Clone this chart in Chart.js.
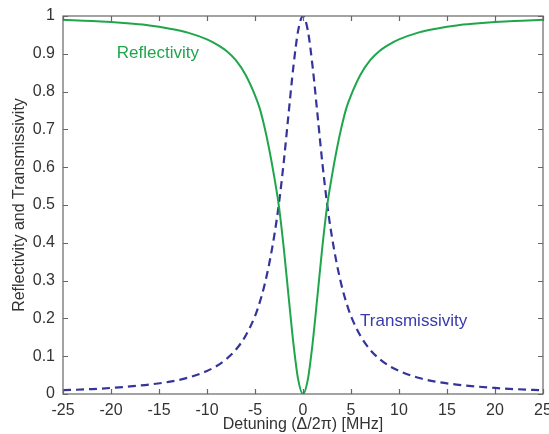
<!DOCTYPE html>
<html>
<head>
<meta charset="utf-8">
<script src="https://cdn.jsdelivr.net/npm/chart.js@4/dist/chart.umd.min.js"></script>
<style>
html,body{margin:0;padding:0;background:#fff;}
#wrap{width:549px;height:434px;position:relative;}
</style>
</head>
<body>
<div id="wrap"><canvas id="c" width="549" height="434"></canvas></div>
<script>
// Detuning (MHz)
const detuning = [-25,-22,-20,-18,-16,-14,-12,-10,-9,-8,-7,-6,-5,-4.5,-4,-3.5,-3,-2.5,-2,-1.5,-1,-0.5,0,
                  0.5,1,1.5,2,2.5,3,3.5,4,4.5,5,6,7,8,9,10,12,14,16,18,20,22,25];
const reflectivity = [0.990,0.987,0.984,0.980,0.975,0.967,0.956,0.938,0.925,0.908,0.883,0.845,0.790,0.755,0.705,0.645,0.575,0.495,0.385,0.258,0.134,0.038,0.0,
                      0.038,0.134,0.258,0.385,0.495,0.575,0.645,0.705,0.755,0.790,0.845,0.883,0.908,0.925,0.938,0.956,0.967,0.975,0.980,0.984,0.987,0.990];
const transmissivity = [0.010,0.013,0.016,0.020,0.025,0.032,0.043,0.061,0.074,0.092,0.117,0.153,0.206,0.243,0.289,0.347,0.418,0.505,0.615,0.742,0.866,0.962,1.0,
                        0.962,0.866,0.742,0.615,0.505,0.418,0.347,0.289,0.243,0.206,0.153,0.117,0.092,0.074,0.061,0.043,0.032,0.025,0.020,0.016,0.013,0.010];
const xTicks = [-25,-20,-15,-10,-5,0,5,10,15,20,25];
const yTicks = [0,0.1,0.2,0.3,0.4,0.5,0.6,0.7,0.8,0.9,1];

const GREEN = '#1fa64c';
const BLUE = '#34349a';
const FONT = '"Liberation Sans", Arial, Helvetica, sans-serif';

const boxPlugin = {
  id: 'box',
  afterDatasetsDraw(chart) {
    const {ctx, chartArea: a, scales} = chart;
    ctx.save();
    ctx.strokeStyle = '#666';
    ctx.lineWidth = 1.2;
    ctx.strokeRect(a.left, a.top, a.right - a.left, a.bottom - a.top);
    const L = 5;
    ctx.beginPath();
    xTicks.forEach(v => {
      const px = Math.round(scales.x.getPixelForValue(v)) + 0.5;
      ctx.moveTo(px, a.bottom); ctx.lineTo(px, a.bottom - L);
      ctx.moveTo(px, a.top); ctx.lineTo(px, a.top + L);
    });
    yTicks.forEach(v => {
      const py = Math.round(scales.y.getPixelForValue(v)) + 0.5;
      ctx.moveTo(a.left, py); ctx.lineTo(a.left + L, py);
      ctx.moveTo(a.right, py); ctx.lineTo(a.right - L, py);
    });
    ctx.stroke();
    // series labels
    ctx.font = '17px ' + FONT;
    ctx.textBaseline = 'middle';
    ctx.fillStyle = GREEN;
    ctx.fillText('Reflectivity', scales.x.getPixelForValue(-19.4), scales.y.getPixelForValue(0.902));
    ctx.fillStyle = '#3a3aae';
    ctx.fillText('Transmissivity', scales.x.getPixelForValue(5.95), scales.y.getPixelForValue(0.192));
    ctx.restore();
  }
};

new Chart(document.getElementById('c'), {
  type: 'line',
  data: {
    datasets: [
      {
        label: 'Reflectivity',
        data: detuning.map((x, i) => ({x, y: reflectivity[i]})),
        borderColor: GREEN,
        borderWidth: 2,
        pointRadius: 0,
        cubicInterpolationMode: 'monotone',
        fill: false
      },
      {
        label: 'Transmissivity',
        data: detuning.map((x, i) => ({x, y: transmissivity[i]})),
        borderColor: BLUE,
        borderWidth: 2.2,
        borderDash: [8, 5],
        pointRadius: 0,
        cubicInterpolationMode: 'monotone',
        fill: false
      }
    ]
  },
  options: {
    responsive: false,
    animation: false,
    devicePixelRatio: 1,
    layout: {padding: {left: 0, right: 6, top: 16, bottom: 0}},
    plugins: {legend: {display: false}, tooltip: {enabled: false}},
    scales: {
      x: {
        type: 'linear',
        min: -25, max: 25,
        afterBuildTicks: s => { s.ticks = xTicks.map(v => ({value: v})); },
        afterFit: s => { s.height = 40; s.paddingLeft = 0; s.paddingRight = 0; },
        grid: {display: false, drawTicks: false},
        border: {display: false},
        ticks: {
          color: '#333',
          font: {family: FONT, size: 16},
          padding: 7,
          maxRotation: 0,
          autoSkip: false,
          callback: v => String(v)
        },
        title: {
          display: true,
          text: 'Detuning (\u0394/2\u03c0) [MHz]',
          color: '#333',
          font: {family: FONT, size: 16},
          padding: {top: 0, bottom: 0}
        }
      },
      y: {
        type: 'linear',
        min: 0, max: 1,
        afterBuildTicks: s => { s.ticks = yTicks.map(v => ({value: v})); },
        afterFit: s => { s.width = 63; s.paddingTop = 0; s.paddingBottom = 0; },
        grid: {display: false, drawTicks: false},
        border: {display: false},
        ticks: {
          color: '#333',
          font: {family: FONT, size: 16},
          padding: 8,
          autoSkip: false,
          callback: v => String(Math.round(v * 10) / 10)
        },
        title: {
          display: true,
          text: 'Reflectivity and Transmissivity',
          color: '#333',
          font: {family: FONT, size: 16},
          padding: {top: 10, bottom: 0}
        }
      }
    }
  },
  plugins: [boxPlugin]
});
</script>
</body>
</html>
